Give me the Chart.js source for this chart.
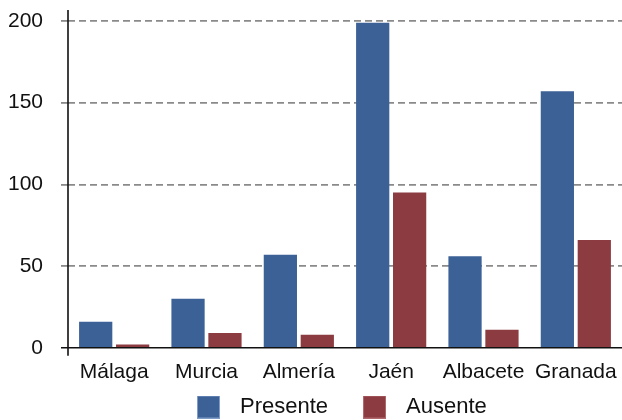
<!DOCTYPE html>
<html>
<head>
<meta charset="utf-8">
<script src="https://cdn.jsdelivr.net/npm/chart.js@4"></script>
<style>
  html, body { margin: 0; padding: 0; background: #fff; }
  #wrap { width: 622px; height: 420px; }
</style>
</head>
<body>
<div id="wrap"><canvas id="barChart" width="622" height="420"></canvas></div>
<script>
const provincias = ['Málaga', 'Murcia', 'Almería', 'Jaén', 'Albacete', 'Granada'];
const presente = [16, 30, 57, 199, 56, 157];
const ausente = [2, 9, 8, 95, 11, 66];
const yTicks = [0, 50, 100, 150, 200];

const colPresente = '#3c6196';
const colAusente = '#8c3b40';

Chart.defaults.font.family = '"Liberation Sans", Arial, sans-serif';
Chart.defaults.font.size = 21;
Chart.defaults.color = '#111';

// little square used as legend marker (gives the wider gap before the text)
function swatch(fill, edge) {
    const c = document.createElement('canvas');
    c.width = 23;
    c.height = 23;
    const g = c.getContext('2d');
    g.fillStyle = edge;
    g.fillRect(0, 0, 23, 23);
    g.fillStyle = fill;
    g.fillRect(1, 1, 21, 21);
    return c;
}
const swatches = [swatch(colPresente, '#7f9cc6'), swatch(colAusente, '#b06a6e')];

// axis lines like the original: y line overshoots top and bottom
const axisLines = {
    id: 'axisLines',
    afterDatasetsDraw(chart) {
        const { ctx, chartArea } = chart;
        const y0 = chart.scales.y.getPixelForValue(0);
        ctx.save();
        ctx.strokeStyle = '#111';
        ctx.lineWidth = 1.6;
        ctx.beginPath();
        ctx.moveTo(chartArea.left, chartArea.top - 11);
        ctx.lineTo(chartArea.left, y0 + 8);
        ctx.moveTo(chartArea.left - 7, y0);
        ctx.lineTo(chartArea.right, y0);
        ctx.stroke();
        ctx.restore();
    }
};

// move the legend up/right so it sits like in the original
const legendShift = {
    id: 'legendShift',
    afterLayout(chart) {
        const l = chart.legend;
        l.top -= 19;
        l.bottom -= 19;
        l.left = 162;
    }
};

const ctx = document.getElementById('barChart').getContext('2d');
new Chart(ctx, {
    type: 'bar',
    data: {
        labels: provincias,
        datasets: [
            {
                label: 'Presente',
                data: presente,
                backgroundColor: colPresente,
                borderWidth: 0
            },
            {
                label: 'Ausente',
                data: ausente,
                backgroundColor: colAusente,
                borderWidth: 0
            }
        ]
    },
    options: {
        responsive: false,
        animation: false,
        layout: { padding: { top: 21, right: 0, left: 0, bottom: -27 } },
        scales: {
            x: {
                border: { display: false },
                grid: { display: false },
                categoryPercentage: 0.72,
                barPercentage: 1,
                ticks: { padding: 4 }
            },
            y: {
                min: 0,
                max: 200,
                border: { display: false, dash: [7, 4] },
                afterBuildTicks(scale) {
                    scale.ticks = yTicks.map(v => ({ value: v }));
                },
                afterFit(scale) {
                    scale.width = 68;
                    scale.paddingTop = 0;
                    scale.paddingBottom = 0;
                },
                grid: {
                    color: c => (c.tick && c.tick.value === 0) ? 'rgba(0,0,0,0)' : '#8a8a8a',
                    tickColor: c => (c.tick && c.tick.value === 0) ? 'rgba(0,0,0,0)' : '#8a8a8a',
                    lineWidth: 1.8,
                    tickBorderDash: [7, 4],
                    tickLength: 7
                },
                ticks: { padding: 18 }
            }
        },
        plugins: {
            legend: {
                position: 'bottom',
                align: 'start',
                labels: {
                    usePointStyle: true,
                    pointStyleWidth: 41,
                    boxHeight: 22,
                    padding: 26,
                    font: { size: 22 },
                    generateLabels(chart) {
                        const items = Chart.defaults.plugins.legend.labels.generateLabels(chart);
                        items.forEach((it, i) => { it.pointStyle = swatches[i]; });
                        return items;
                    }
                }
            },
            tooltip: { enabled: false }
        }
    },
    plugins: [axisLines, legendShift]
});
</script>
</body>
</html>
